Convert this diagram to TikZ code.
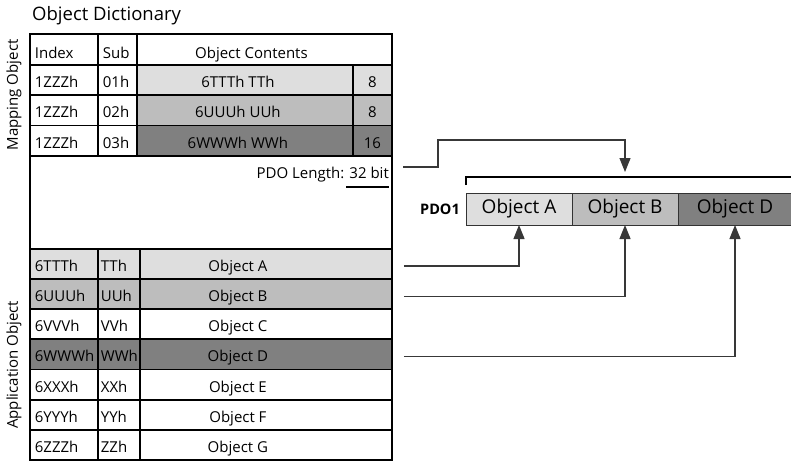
\documentclass[tikz,border=0pt]{standalone}
\usepackage{fontspec}
\setmainfont{Open Sans}
\usetikzlibrary{arrows.meta,positioning,calc}
\definecolor{lightA}{HTML}{DEDEDE}
\definecolor{midB}{HTML}{BDBDBD}
\definecolor{darkD}{HTML}{808080}
\definecolor{wire}{HTML}{383838}
\tikzset{
  txt/.style={inner sep=0pt,font=\fontsize{15}{18}\selectfont},
  cell/.style={draw=black,line width=1.8pt,rectangle,anchor=north west,
    inner ysep=0pt,minimum height=30.3pt,text height=19pt,text depth=4pt,
    font=\fontsize{15}{18}\selectfont},
  idxcell/.style={cell,minimum width=68pt,text width=58pt,inner xsep=5pt,align=left},
  subcell/.style={cell,minimum width=39pt,text width=29pt,inner xsep=5pt,align=left},
  headcell/.style={minimum height=31pt,text height=23pt},
  pdobox/.style={draw=black!80,line width=1pt,rectangle,anchor=north west,outer sep=0pt,
    minimum width=106pt,minimum height=32pt,inner sep=0pt,font=\fontsize{19}{22}\selectfont},
  conn/.style={draw=wire,line width=1.2pt,-{Triangle[length=14pt,width=11pt]}},
}
\begin{document}
\begin{tikzpicture}[x=1pt,y=-1pt]
\useasboundingbox (0,0) rectangle (791,460);
\node[txt,anchor=west,font=\fontsize{18.5}{22}\selectfont] (dict) at (32,16) {Object Dictionary};
% mapping object
\node[idxcell,headcell] (hidx) at (29,33) {Index};
\node[subcell,headcell] (hsub) at (97,33) {Sub};
\node[cell,headcell,minimum width=255pt] (hcont) at (136,33) {Object Contents\hspace*{26pt}};
\foreach \ssub/\scont/\slen/\scol [count=\i] in {01h/6TTTh TTh/8/lightA,02h/6UUUh UUh/8/midB,03h/6WWWh WWh/16/darkD}{
  \node[idxcell] (midx\i) at (29,{64+(\i-1)*30.33}) {1ZZZh};
  \node[subcell] (msub\i) at (97,{64+(\i-1)*30.33}) {\ssub};
  \node[cell,fill=\scol,minimum width=216pt] (mcont\i) at (136,{64+(\i-1)*30.33}) {\scont\hspace*{14pt}};
  \node[cell,fill=\scol,minimum width=39pt] (mlen\i) at (352,{64+(\i-1)*30.33}) {\slen};
}
\node[cell,minimum width=362pt,minimum height=93pt] (gap) at (29,155) {};
\node[txt,anchor=east] (pdolen) at (389,175) {PDO Length: 32 bit};
\draw[line width=1.8pt] (346,187) -- (389,187);
% application object
\foreach \r/\sidx/\ssub/\sname/\scol [count=\i] in {A/6TTTh/TTh/Object A/lightA,B/6UUUh/UUh/Object B/midB,
  C/6VVVh/VVh/Object C/white,D/6WWWh/WWh/Object D/darkD,E/6XXXh/XXh/Object E/white,
  F/6YYYh/YYh/Object F/white,G/6ZZZh/ZZh/Object G/white}{
  \node[idxcell,fill=\scol,minimum height=30.14pt] (idx\r) at (29,{248+(\i-1)*30.14}) {\sidx};
  \node[subcell,fill=\scol,minimum height=30.14pt,minimum width=42pt,text width=36pt,inner xsep=3pt] (sub\r) at (97,{248+(\i-1)*30.14}) {\ssub};
  \node[cell,fill=\scol,minimum height=30.14pt,minimum width=252pt] (obj\r) at (139,{248+(\i-1)*30.14}) {\sname\hspace*{56pt}};
}
\node[txt,rotate=90] (mapobj) at (14,95) {Mapping Object};
\node[txt,rotate=90] (appobj) at (14,365) {Application Object};
% PDO
\node[pdobox,fill=lightA] (pdoA) at (466,193) {Object A};
\node[pdobox,fill=midB,right=0pt of pdoA] (pdoB) {Object B};
\node[pdobox,fill=darkD,right=0pt of pdoB,minimum width=114pt] (pdoD) {Object D};
\node[txt,left=6pt of pdoA,font=\fontsize{14.5}{17}\bfseries] (pdo1) {PDO1};
\draw[line width=1.8pt] ($(pdoA.north west)+(0,-8)$) -- ($(pdoA.north west)+(0,-16)$) -- ++(340,0);
\coordinate (lenout) at (403,167);
\coordinate (lenbend) at (438,140);
\draw[conn] (lenout) -| (lenbend) -| ($(pdoB.north)+(0,-21)$);
\foreach \r in {A,B,D}
  \draw[conn] ($(obj\r.east)+(11,2)$) -| (pdo\r.south);
\end{tikzpicture}
\end{document}
